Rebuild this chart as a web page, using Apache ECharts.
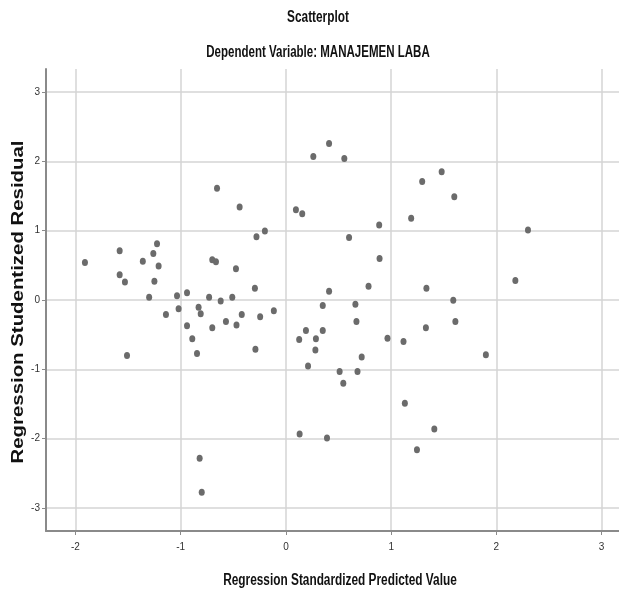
<!DOCTYPE html>
<html>
<head>
<meta charset="utf-8">
<script src="https://cdn.jsdelivr.net/npm/echarts@6/dist/echarts.min.js"></script>
<style>
  html, body { margin: 0; padding: 0; background: #fff; }
  #chart { width: 619px; height: 593px; }
</style>
</head>
<body>
<div id="chart"></div>
<script>
// standardized predicted value (x) and studentized residual (y)
var predicted = [
  -1.91, -1.58, -1.58, -1.53, -1.36, -1.26, -1.225, -1.21, -1.25, -1.30,
  -1.035, -0.94, -0.655, -0.44, -0.70, -0.665, -0.475, -0.28, -0.20, 0.095,
  0.155, 0.26, 0.41, -0.295, -0.73, -0.62, -0.51, 0.41, 0.35, 0.555,
  1.295, 1.48, 1.60, 1.19, 0.886, 0.60, 0.89, 2.30, 2.18, 0.785,
  1.335, 1.59, 0.66, -1.14, -1.02, -0.83, -0.81, -0.94, -0.89, -0.845,
  -0.70, -0.57, -0.47, -0.42, -0.245, -0.115, -0.29, -1.51, -0.82, -0.80,
  0.13, 0.39, 0.126, 0.19, 0.285, 0.35, 0.28, 0.21, 0.67, 1.61,
  1.33, 0.965, 1.117, 0.72, 1.90, 0.51, 0.68, 0.545, 1.13, 1.41,
  1.245
];
var residual = [
  0.54, 0.71, 0.365, 0.26, 0.56, 0.67, 0.81, 0.49, 0.27, 0.04,
  0.06, 0.105, 1.61, 1.34, 0.58, 0.55, 0.45, 0.91, 0.995, 1.30,
  1.245, 2.07, 2.255, 0.17, 0.04, -0.015, 0.04, 0.125, -0.08, 2.04,
  1.71, 1.85, 1.49, 1.18, 1.08, 0.90, 0.60, 1.01, 0.28, 0.20,
  0.17, -0.005, -0.06, -0.21, -0.125, -0.105, -0.20, -0.37, -0.56, -0.77,
  -0.40, -0.31, -0.36, -0.21, -0.24, -0.155, -0.71, -0.80, -2.28, -2.77,
  -1.93, -1.99, -0.57, -0.44, -0.56, -0.44, -0.72, -0.95, -0.31, -0.31,
  -0.40, -0.55, -0.60, -0.82, -0.79, -1.03, -1.03, -1.20, -1.49, -1.86,
  -2.16
];
var xTicks = [-2, -1, 0, 1, 2, 3];
var yTicks = [-3, -2, -1, 0, 1, 2, 3];

var points = predicted.map(function (x, i) { return [x, residual[i]]; });

var sans = "'Liberation Sans', Arial, sans-serif";

// SPSS uses a narrow face; squeeze bold text horizontally to mimic it
function narrowText(str, x, y, size, sx) {
  return {
    type: 'text', x: x, y: y, scaleX: sx,
    style: { text: str, fill: '#111', font: 'bold ' + size + 'px ' + sans, align: 'center', verticalAlign: 'middle' }
  };
}

var chart = echarts.init(document.getElementById('chart'));
chart.setOption({
  animation: false,
  backgroundColor: '#fff',
  graphic: [
    narrowText('Scatterplot', 318, 18, 16, 0.74),
    narrowText('Dependent Variable: MANAJEMEN LABA', 318, 53, 16, 0.72),
    narrowText('Regression Standardized Predicted Value', 340, 581, 16, 0.74),
    {
      type: 'text', x: 18, y: 302, rotation: Math.PI / 2, scaleX: 1.2,
      style: { text: 'Regression Studentized Residual', fill: '#111', font: 'bold 17px ' + sans, align: 'center', verticalAlign: 'middle' }
    }
  ],
  grid: { left: 46, top: 69, right: 0, bottom: 62, containLabel: false, outerBoundsMode: 'none' },
  xAxis: {
    type: 'value',
    min: -2.28, max: 3.165,
    axisLine: { onZero: false, lineStyle: { color: '#8a8a8a', width: 2 } },
    axisTick: { show: true, length: 4, customValues: xTicks, lineStyle: { color: '#8a8a8a' } },
    axisLabel: { customValues: xTicks, margin: 11, fontFamily: sans, fontSize: 10, color: '#333' },
    splitLine: { show: true, lineStyle: { color: '#d4d4d4', width: 1.5 } }
  },
  yAxis: {
    type: 'value',
    min: -3.33, max: 3.33,
    axisLine: { onZero: false, lineStyle: { color: '#8a8a8a', width: 2 } },
    axisTick: { show: true, length: 4, customValues: yTicks, lineStyle: { color: '#8a8a8a' } },
    axisLabel: { customValues: yTicks, margin: 6, fontFamily: sans, fontSize: 10, color: '#333' },
    splitLine: { show: true, lineStyle: { color: '#d4d4d4', width: 1.5 } }
  },
  series: [{
    type: 'scatter',
    data: points,
    symbol: 'circle',
    symbolSize: [6, 7],
    itemStyle: { color: '#6b6b6b', opacity: 1 }
  }]
});
</script>
</body>
</html>
